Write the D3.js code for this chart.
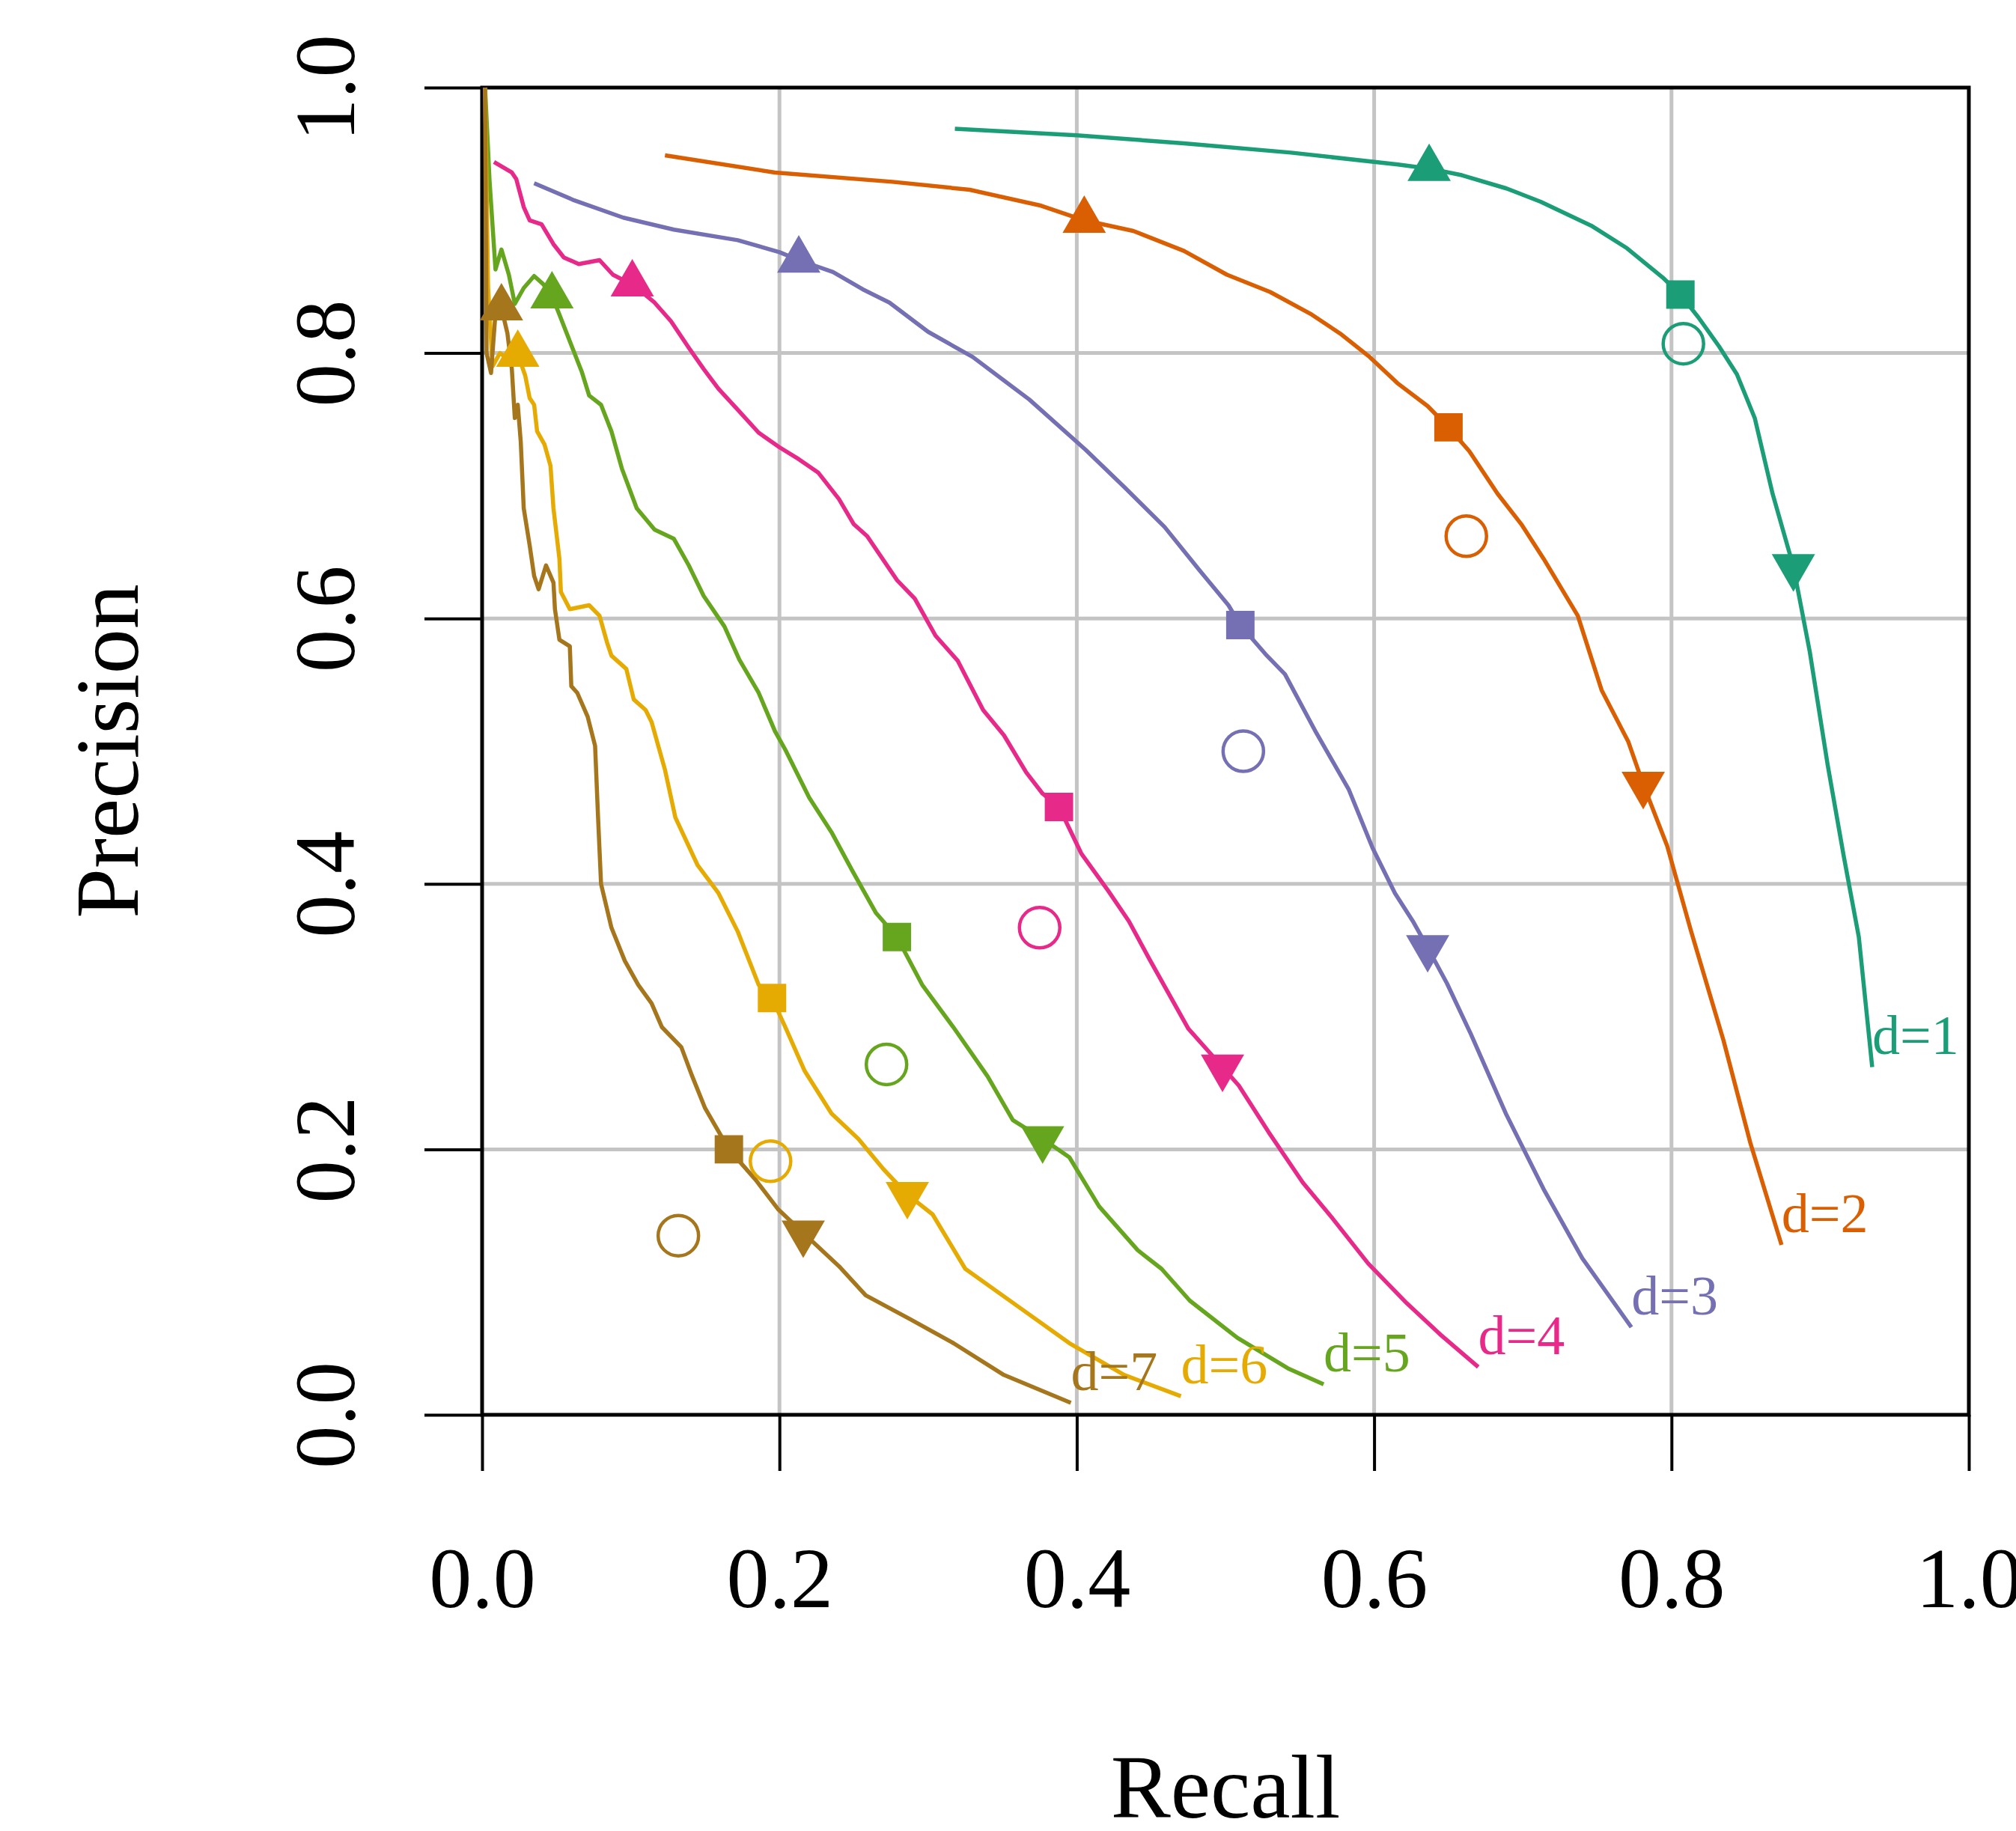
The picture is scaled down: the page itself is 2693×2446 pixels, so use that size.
<!DOCTYPE html>
<html>
<head>
<meta charset="utf-8">
<script src="https://cdn.jsdelivr.net/npm/d3@7"></script>
<style>
  body { margin: 0; background: #fff; }
  svg { display: block; }
</style>
</head>
<body>
<div id="chart"></div>
<script>
// recall / precision curves for each depth d
const depths = ['d=1', 'd=2', 'd=3', 'd=4', 'd=5', 'd=6', 'd=7'];
const colors = ['#1b9e77', '#d95f02', '#7570b3', '#e7298a', '#66a61e', '#e6ab02', '#a6761d'];

const curve_d1 = [[0.318,0.969],[0.400,0.964],[0.472,0.958],[0.544,0.951],[0.616,0.942],[0.637,0.939],[0.659,0.934],[0.689,0.924],[0.712,0.914],[0.746,0.896],[0.770,0.879],[0.794,0.857],[0.806,0.844],[0.818,0.827],[0.832,0.805],[0.844,0.784],[0.856,0.751],[0.868,0.694],[0.882,0.639],[0.893,0.575],[0.905,0.490],[0.916,0.420],[0.926,0.360],[0.935,0.262]];
const curve_d2 = [[0.123,0.949],[0.197,0.936],[0.276,0.929],[0.328,0.923],[0.376,0.911],[0.405,0.900],[0.438,0.892],[0.472,0.877],[0.501,0.859],[0.530,0.846],[0.558,0.829],[0.578,0.814],[0.597,0.797],[0.616,0.777],[0.636,0.760],[0.650,0.744],[0.664,0.726],[0.683,0.694],[0.699,0.671],[0.714,0.645],[0.737,0.602],[0.753,0.546],[0.771,0.507],[0.781,0.475],[0.797,0.429],[0.813,0.365],[0.835,0.282],[0.853,0.205],[0.874,0.128]];
const curve_d3 = [[0.035,0.928],[0.062,0.915],[0.095,0.902],[0.129,0.893],[0.172,0.885],[0.200,0.876],[0.213,0.870],[0.236,0.861],[0.256,0.848],[0.274,0.838],[0.300,0.816],[0.330,0.797],[0.368,0.765],[0.406,0.727],[0.432,0.699],[0.459,0.669],[0.482,0.637],[0.502,0.610],[0.510,0.595],[0.527,0.573],[0.540,0.558],[0.561,0.514],[0.583,0.471],[0.599,0.427],[0.614,0.393],[0.626,0.372],[0.636,0.352],[0.649,0.325],[0.665,0.287],[0.689,0.226],[0.714,0.170],[0.740,0.118],[0.773,0.066]];
const curve_d4 = [[0.008,0.944],[0.020,0.936],[0.023,0.931],[0.028,0.910],[0.032,0.900],[0.040,0.897],[0.048,0.882],[0.055,0.872],[0.065,0.867],[0.079,0.870],[0.088,0.859],[0.102,0.851],[0.116,0.838],[0.127,0.824],[0.139,0.804],[0.149,0.788],[0.159,0.773],[0.173,0.756],[0.186,0.740],[0.200,0.729],[0.213,0.720],[0.226,0.710],[0.240,0.690],[0.250,0.671],[0.259,0.662],[0.279,0.629],[0.291,0.615],[0.305,0.587],[0.320,0.568],[0.337,0.531],[0.351,0.512],[0.366,0.484],[0.377,0.468],[0.388,0.458],[0.403,0.423],[0.421,0.395],[0.435,0.372],[0.449,0.343],[0.475,0.291],[0.498,0.262],[0.509,0.248],[0.529,0.213],[0.552,0.175],[0.572,0.148],[0.596,0.114],[0.622,0.084],[0.645,0.060],[0.670,0.036]];
const curve_d5 = [[0.002,1.000],[0.005,0.930],[0.009,0.863],[0.013,0.878],[0.018,0.859],[0.022,0.837],[0.028,0.849],[0.035,0.858],[0.041,0.852],[0.047,0.843],[0.052,0.829],[0.060,0.806],[0.067,0.786],[0.072,0.768],[0.080,0.761],[0.087,0.741],[0.094,0.713],[0.104,0.683],[0.116,0.667],[0.129,0.660],[0.139,0.640],[0.149,0.617],[0.163,0.594],[0.173,0.569],[0.186,0.544],[0.197,0.515],[0.204,0.501],[0.220,0.465],[0.235,0.439],[0.249,0.410],[0.265,0.378],[0.279,0.360],[0.296,0.324],[0.317,0.292],[0.340,0.255],[0.357,0.222],[0.377,0.208],[0.395,0.194],[0.415,0.157],[0.441,0.124],[0.457,0.110],[0.476,0.086],[0.508,0.058],[0.542,0.035],[0.566,0.023]];
const curve_d6 = [[0.002,1.000],[0.004,0.850],[0.007,0.790],[0.012,0.800],[0.018,0.795],[0.024,0.799],[0.029,0.783],[0.032,0.766],[0.035,0.761],[0.037,0.741],[0.042,0.731],[0.046,0.715],[0.048,0.683],[0.052,0.645],[0.053,0.620],[0.059,0.607],[0.072,0.610],[0.079,0.602],[0.084,0.582],[0.087,0.572],[0.097,0.562],[0.102,0.539],[0.110,0.531],[0.114,0.522],[0.123,0.486],[0.130,0.450],[0.145,0.414],[0.159,0.393],[0.172,0.364],[0.186,0.324],[0.195,0.314],[0.204,0.292],[0.217,0.259],[0.235,0.227],[0.253,0.208],[0.270,0.185],[0.286,0.166],[0.303,0.151],[0.325,0.110],[0.360,0.082],[0.395,0.054],[0.432,0.030],[0.470,0.014]];
const curve_d7 = [[0.002,1.000],[0.003,0.800],[0.006,0.785],[0.009,0.830],[0.013,0.834],[0.017,0.815],[0.020,0.788],[0.022,0.751],[0.024,0.761],[0.026,0.733],[0.028,0.683],[0.032,0.655],[0.035,0.632],[0.038,0.622],[0.043,0.640],[0.048,0.627],[0.049,0.607],[0.052,0.584],[0.059,0.579],[0.060,0.549],[0.064,0.544],[0.071,0.526],[0.076,0.504],[0.078,0.450],[0.080,0.400],[0.087,0.367],[0.096,0.342],[0.105,0.324],[0.114,0.310],[0.121,0.292],[0.134,0.277],[0.141,0.256],[0.150,0.231],[0.166,0.200],[0.184,0.177],[0.199,0.155],[0.216,0.137],[0.240,0.112],[0.258,0.090],[0.288,0.072],[0.317,0.054],[0.351,0.030],[0.396,0.009]];
const curves = [curve_d1, curve_d2, curve_d3, curve_d4, curve_d5, curve_d6, curve_d7];

// marked operating points: up triangle, square, down triangle, open circle
const pts_up = [[0.637,0.939],[0.405,0.900],[0.213,0.870],[0.101,0.852],[0.047,0.843],[0.024,0.799],[0.013,0.834]];
const pts_square = [[0.806,0.844],[0.650,0.744],[0.510,0.595],[0.388,0.458],[0.279,0.360],[0.195,0.314],[0.166,0.200]];
const pts_down = [[0.882,0.639],[0.781,0.475],[0.636,0.352],[0.498,0.262],[0.377,0.208],[0.286,0.166],[0.216,0.137]];
const pts_circle = [[0.808,0.807],[0.662,0.662],[0.512,0.500],[0.375,0.367],[0.272,0.264],[0.194,0.191],[0.132,0.135]];

const ticks = [0, 0.2, 0.4, 0.6, 0.8, 1.0];

const width = 2693;
const height = 2446;
const margin = {top: 117, left: 644, bottom: 556, right: 63};
const font = '"Liberation Serif", "Times New Roman", serif';

const x = d3.scaleLinear().domain([0, 1]).range([margin.left, width - margin.right]);
const y = d3.scaleLinear().domain([0, 1]).range([height - margin.bottom, margin.top]);

const svg = d3.select('#chart').append('svg')
    .attr('width', width).attr('height', height)
    .style('background', '#fff');

// grid ________________________________________________________________________
const grid = svg.append('g').attr('stroke', '#c4c4c4').attr('stroke-width', 5);
grid.selectAll('line.v').data(ticks.slice(1, -1)).enter().append('line')
    .attr('x1', d => x(d)).attr('x2', d => x(d))
    .attr('y1', y(1)).attr('y2', y(0));
grid.selectAll('line.h').data(ticks.slice(1, -1)).enter().append('line')
    .attr('y1', d => y(d)).attr('y2', d => y(d))
    .attr('x1', x(0)).attr('x2', x(1));

// axes ________________________________________________________________________
const xAxis = g => g
    .attr('transform', `translate(0, ${y(0)})`)
    .call(d3.axisBottom(x).tickValues(ticks).tickFormat(d3.format('.1f')).tickSize(75).tickSizeOuter(0))
    .call(g => g.select('.domain').remove())
    .call(g => g.selectAll('.tick line').attr('stroke', '#000').attr('stroke-width', 4))
    .call(g => g.selectAll('.tick text')
        .attr('y', 257).attr('dy', 0)
        .attr('fill', '#000')
        .style('font-family', font).style('font-size', '114px'));

const yAxis = g => g
    .attr('transform', `translate(${x(0)}, 0)`)
    .call(d3.axisLeft(y).tickValues(ticks).tickFormat(d3.format('.1f')).tickSize(77).tickSizeOuter(0))
    .call(g => g.select('.domain').remove())
    .call(g => g.selectAll('.tick line').attr('stroke', '#000').attr('stroke-width', 4))
    .call(g => g.selectAll('.tick text')
        .attr('transform', 'rotate(-90)')
        .attr('x', 0).attr('y', -171).attr('dy', 0)
        .attr('text-anchor', 'middle')
        .attr('fill', '#000')
        .style('font-family', font).style('font-size', '114px'));

svg.append('g').call(xAxis);
svg.append('g').call(yAxis);

// frame
svg.append('rect')
    .attr('x', x(0)).attr('y', y(1))
    .attr('width', x(1) - x(0)).attr('height', y(0) - y(1))
    .attr('fill', 'none').attr('stroke', '#000').attr('stroke-width', 5);

// curves ______________________________________________________________________
const line = d3.line().x(d => x(d[0])).y(d => y(d[1]));

svg.append('g').selectAll('path').data(curves).enter().append('path')
    .attr('d', line)
    .attr('fill', 'none')
    .attr('stroke', (d, i) => colors[i])
    .attr('stroke-width', 5.5)
    .attr('stroke-linejoin', 'round');

// markers
const tri = d3.symbol().type(d3.symbolTriangle).size(1450);
const sq = d3.symbol().type(d3.symbolSquare).size(1440);

svg.append('g').selectAll('path').data(pts_up).enter().append('path')
    .attr('d', tri)
    .attr('transform', d => `translate(${x(d[0])}, ${y(d[1])})`)
    .attr('fill', (d, i) => colors[i]);

svg.append('g').selectAll('path').data(pts_down).enter().append('path')
    .attr('d', tri)
    .attr('transform', d => `translate(${x(d[0])}, ${y(d[1])}) rotate(180)`)
    .attr('fill', (d, i) => colors[i]);

svg.append('g').selectAll('path').data(pts_square).enter().append('path')
    .attr('d', sq)
    .attr('transform', d => `translate(${x(d[0])}, ${y(d[1])})`)
    .attr('fill', (d, i) => colors[i]);

svg.append('g').selectAll('circle').data(pts_circle).enter().append('circle')
    .attr('cx', d => x(d[0])).attr('cy', d => y(d[1]))
    .attr('r', 27)
    .attr('fill', 'none')
    .attr('stroke', (d, i) => colors[i])
    .attr('stroke-width', 4.5);

// curve labels at the end of each curve
svg.append('g').selectAll('text').data(curves).enter().append('text')
    .attr('x', d => x(d[d.length - 1][0]))
    .attr('y', d => y(d[d.length - 1][1]) - 17)
    .attr('fill', (d, i) => colors[i])
    .style('font-family', font).style('font-size', '74px')
    .text((d, i) => depths[i]);

// axis titles
svg.append('text')
    .attr('x', (x(0) + x(1)) / 2).attr('y', 2428)
    .attr('text-anchor', 'middle')
    .style('font-family', font).style('font-size', '120px')
    .text('Recall');

svg.append('text')
    .attr('transform', `translate(184, ${(y(0) + y(1)) / 2}) rotate(-90)`)
    .attr('text-anchor', 'middle')
    .style('font-family', font).style('font-size', '120px')
    .text('Precision');
</script>
</body>
</html>
